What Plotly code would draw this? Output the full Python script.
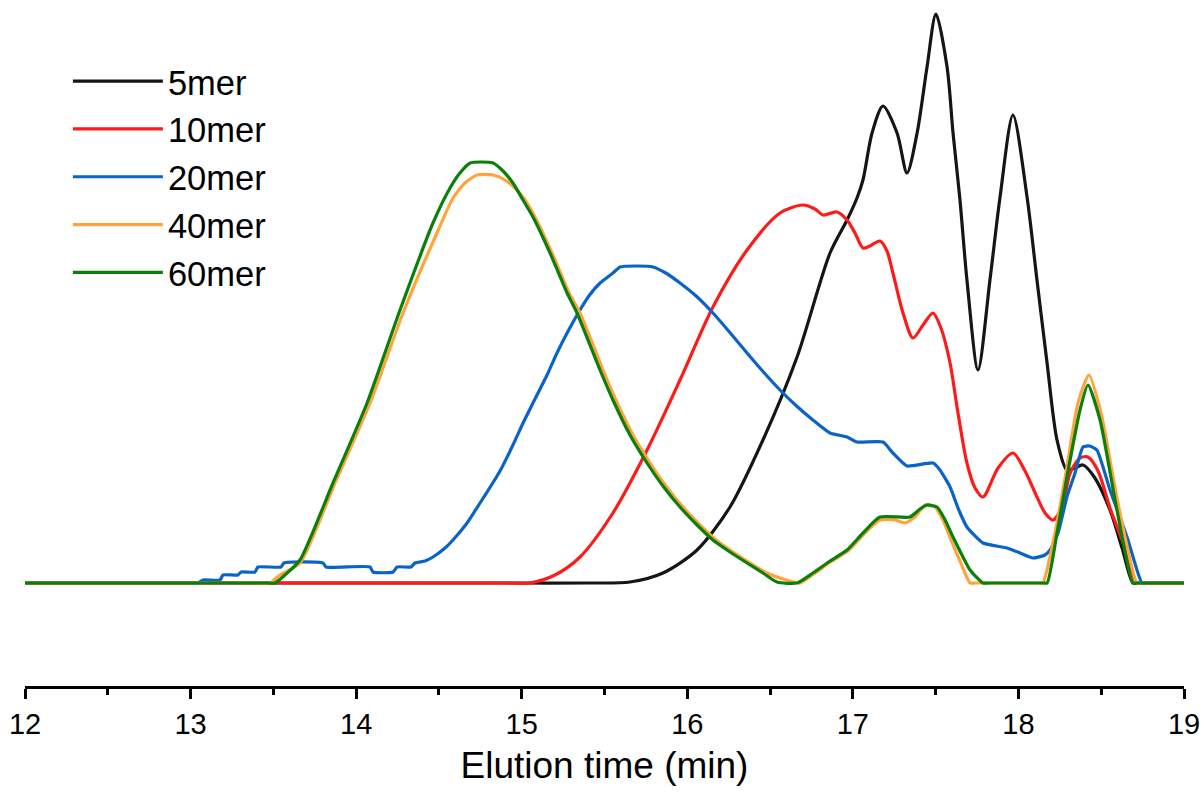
import plotly.graph_objects as go

# ---- data (elution time in min, detector signal in arbitrary units) ----
x_5mer = [12.0, 13.0, 14.0, 15.0, 15.4, 15.654, 15.853, 16.059, 16.258, 16.457, 16.663, 16.862, 16.965,
          17.025, 17.061, 17.116, 17.182, 17.267, 17.327, 17.388, 17.448, 17.502, 17.569, 17.605,
          17.647, 17.689, 17.756, 17.828, 17.889, 17.967, 18.052, 18.112, 18.173, 18.233, 18.293,
          18.342, 18.390, 18.462, 18.553, 18.626, 18.692, 18.72, 18.8, 19.0]
y_5mer = [0, 0, 0, 0, 0, 1, 10, 33, 76, 143, 226, 330, 363,
          385, 403, 450, 477, 450, 410, 450, 516, 569, 516, 450,
          383, 303, 213, 303, 386, 468, 386, 303, 220, 143, 113,
          115, 118, 105, 73, 35, 0, 0, 0, 0]

x_10mer = [12.0, 13.0, 14.0, 14.6, 14.9, 15.050, 15.201, 15.352, 15.551, 15.757, 15.956, 16.155,
           16.361, 16.560, 16.699, 16.771, 16.820, 16.904, 16.965, 17.013, 17.061, 17.103, 17.164,
           17.206, 17.242, 17.303, 17.363, 17.424, 17.484, 17.532, 17.587, 17.635, 17.689, 17.738,
           17.786, 17.877, 17.967, 18.040, 18.112, 18.161, 18.209, 18.263, 18.312, 18.372, 18.420,
           18.481, 18.553, 18.644, 18.716, 18.745, 18.8, 19.0]
y_10mer = [0, 0, 0, 0, 0, 0, 8, 26, 70, 133, 203, 276,
           333, 370, 378, 374, 368, 371, 363, 350, 335, 337, 342,
           332, 310, 270, 245, 258, 270, 255, 220, 170, 120, 95,
           86, 115, 130, 112, 86, 70, 63, 75, 110, 125, 126,
           112, 75, 35, 0, 0, 0, 0]

x_20mer = [12.0, 12.5, 13.0, 13.045, 13.075, 13.178, 13.196, 13.286, 13.305, 13.389, 13.407, 13.546,
           13.564, 13.800, 13.818, 14.084, 14.102, 14.223, 14.247, 14.331, 14.355, 14.416, 14.464,
           14.537, 14.585, 14.670, 14.748, 14.810, 14.869, 14.947, 15.008, 15.068, 15.153, 15.213,
           15.274, 15.352, 15.410, 15.473, 15.551, 15.594, 15.700, 15.793, 15.870, 15.956, 16.060,
           16.155, 16.260, 16.361, 16.460, 16.560, 16.660, 16.759, 16.862, 16.965, 17.025, 17.182,
           17.242, 17.327, 17.484, 17.526, 17.587, 17.640, 17.689, 17.786, 17.931, 18.010, 18.088,
           18.160, 18.191, 18.239, 18.293, 18.342, 18.390, 18.430, 18.474, 18.553, 18.656, 18.746,
           18.775, 18.85, 19.0]
y_20mer = [0, 0, 0, 0, 3, 3, 8, 8, 11, 11, 16, 16,
           20, 20, 16, 16, 11, 11, 16, 16, 20, 22, 26,
           35, 43, 60, 80, 96, 112, 138, 160, 180, 208, 230,
           250, 273, 288, 300, 310, 316, 317, 316, 310, 300, 286,
           270, 250, 230, 211, 193, 177, 163, 150, 146, 141, 141,
           130, 117, 120, 113, 96, 73, 56, 40, 35, 30, 25,
           28, 33, 50, 86, 110, 136, 137, 133, 93, 46, 0,
           0, 0, 0]

x_40mer = [12.0, 12.8, 13.2, 13.42, 13.480, 13.540, 13.661, 13.872, 14.084, 14.283, 14.488, 14.585,
           14.657, 14.730, 14.827, 14.899, 14.959, 15.020, 15.080, 15.183, 15.286, 15.352, 15.491,
           15.569, 15.672, 15.775, 15.871, 15.974, 16.077, 16.173, 16.276, 16.379, 16.481, 16.578,
           16.681, 16.771, 16.874, 16.977, 17.073, 17.164, 17.255, 17.315, 17.375, 17.436, 17.496,
           17.544, 17.593, 17.647, 17.708, 17.74, 17.9, 18.1, 18.13, 18.148, 18.221, 18.287, 18.360,
           18.426, 18.499, 18.601, 18.716, 18.745, 18.85, 19.0]
y_40mer = [0, 0, 0, 0, 0, 8, 20, 100, 180, 270, 350, 385,
           400, 408, 408, 403, 395, 383, 366, 330, 290, 270, 213,
           183, 148, 120, 97, 76, 58, 43, 31, 20, 10, 4,
           0, 10, 22, 33, 50, 63, 63, 60, 66, 78, 76,
           63, 43, 22, 0, 0, 0, 0, 0, 0, 50, 110, 180,
           208, 170, 80, 0, 0, 0, 0]

x_60mer = [12.0, 12.8, 13.2, 13.46, 13.510, 13.570, 13.661, 13.860, 14.066, 14.265, 14.464, 14.567,
           14.627, 14.688, 14.827, 14.887, 14.947, 15.008, 15.068, 15.171, 15.274, 15.334, 15.473,
           15.551, 15.654, 15.757, 15.853, 15.956, 16.059, 16.155, 16.258, 16.361, 16.457, 16.542,
           16.663, 16.759, 16.862, 16.965, 17.061, 17.164, 17.345, 17.406, 17.448, 17.508, 17.557,
           17.605, 17.659, 17.708, 17.786, 17.82, 17.95, 18.1, 18.15, 18.173, 18.233, 18.293, 18.372,
           18.420, 18.493, 18.595, 18.692, 18.72, 18.85, 19.0]
y_60mer = [0, 0, 0, 0, 0, 8, 23, 100, 180, 273, 360, 395,
           410, 420, 420, 412, 400, 383, 366, 330, 290, 270, 213,
           183, 148, 120, 97, 76, 58, 43, 31, 20, 10, 1,
           0, 10, 22, 33, 50, 66, 66, 74, 78, 76, 63,
           46, 28, 13, 0, 0, 0, 0, 0, 0, 50, 106, 173,
           198, 163, 73, 0, 0, 0, 0]

series = [
    ("5mer", x_5mer, y_5mer, "#151515", 0.8),
    ("10mer", x_10mer, y_10mer, "#ff1a1a", 0.8),
    ("20mer", x_20mer, y_20mer, "#0a64c8", 0.5),
    ("40mer", x_40mer, y_40mer, "#ffa43c", 0.6),
    ("60mer", x_60mer, y_60mer, "#0a800a", 0.6),
]

x_ticks = [12, 13, 14, 15, 16, 17, 18, 19]

FONT = "Arial, Liberation Sans, sans-serif"

fig = go.Figure()
for name, xs, ys, color, smooth in series:
    fig.add_trace(go.Scatter(
        x=xs, y=ys, name=name, mode="lines",
        line=dict(color=color, width=3.2, shape="spline", smoothing=smooth),
    ))

fig.update_layout(
    width=1204, height=801,
    margin=dict(l=25, r=20, t=0, b=115),
    paper_bgcolor="white", plot_bgcolor="white",
    font=dict(family=FONT, color="black"),
    showlegend=True,
    legend=dict(
        x=0.037, y=0.924, xanchor="left", yanchor="top",
        font=dict(size=34.5, family=FONT, color="black"),
        bgcolor="rgba(0,0,0,0)", borderwidth=0,
        itemwidth=90, tracegroupgap=0,
    ),
    xaxis=dict(
        range=[12, 19], tickvals=x_ticks, ticktext=[str(v) for v in x_ticks],
        showline=True, linecolor="black", linewidth=2.5,
        ticks="outside", ticklen=10, tickwidth=2.5, tickcolor="black",
        minor=dict(dtick=0.5, ticks="outside", ticklen=6, tickwidth=2.5, tickcolor="black"),
        tickfont=dict(size=29, family=FONT, color="black"),
        showgrid=False, zeroline=False, automargin=False,
        title=dict(text="Elution time (min)", font=dict(size=37, family=FONT, color="black"), standoff=14),
        fixedrange=True,
    ),
    yaxis=dict(range=[-103, 583], visible=False, showgrid=False, zeroline=False, fixedrange=True),
)

fig.write_html("out.html")
